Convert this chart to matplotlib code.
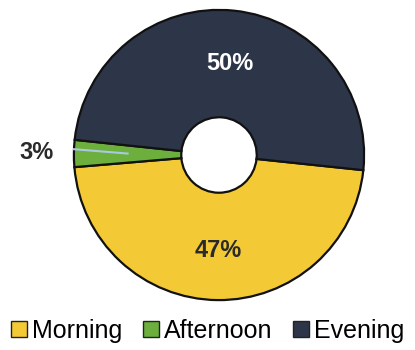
import numpy as np
import matplotlib as mpl
mpl.use('Agg')
import matplotlib.pyplot as plt
from matplotlib.patches import Patch

labels = ['Morning', 'Afternoon', 'Evening']
shares = [47, 3, 50]
colors = ['#F3C935', '#6CAF3C', '#2D3549']

plt.rcParams['font.family'] = ['Liberation Sans', 'DejaVu Sans']

fig = plt.figure(figsize=(4.15, 3.5), dpi=100)
cx, cy, r = 219, 155, 148
ax = fig.add_axes([(cx - r) / 415, (350 - cy - r) / 350, 2 * r / 415, 2 * r / 350])

wedges, _ = ax.pie(shares, colors=colors, startangle=-6, counterclock=False,
                   radius=1, wedgeprops=dict(width=0.74, edgecolor='#111111', linewidth=1.6))
ax.set_xlim(-1.02, 1.02)
ax.set_ylim(-1.02, 1.02)
ax.set_aspect('equal')
ax.axis('off')

# percentage labels
ax.text(0.075, 0.63, f'{shares[2]}%', color='white', fontsize=17, fontweight='bold',
        ha='center', va='center')
ax.text(-0.005, -0.66, f'{shares[0]}%', color='#2a2a2a', fontsize=17, fontweight='bold',
        ha='center', va='center')
ax.text(-1.26, 0.02, f'{shares[1]}%', color='#2a2a2a', fontsize=17, fontweight='bold',
        ha='center', va='center')
ax.plot([-1.0, -0.63], [0.04, 0.01], color='#A9C9E2', lw=1.5, clip_on=False)

handles = [Patch(facecolor=c, edgecolor='#222222', linewidth=1.0) for c in colors]
fig.legend(handles, labels, loc='center', bbox_to_anchor=(0.5, 1 - 331 / 350), ncol=3,
           frameon=False, fontsize=18, handlelength=0.62, handleheight=0.62,
           handletextpad=0.2, columnspacing=0.85, borderaxespad=0, borderpad=0)

fig.savefig('out.png', dpi=100)
